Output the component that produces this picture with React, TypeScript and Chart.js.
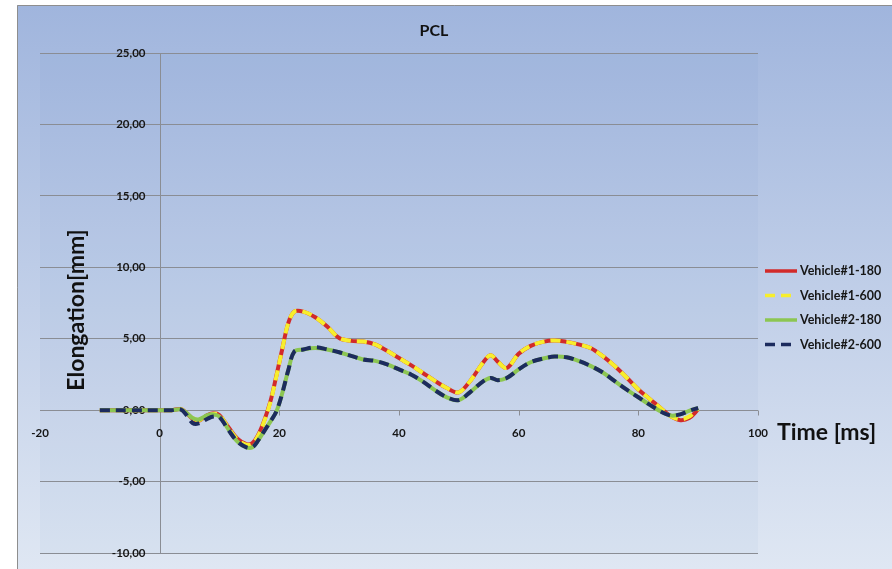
import React, { useEffect, useRef } from "react";
import { Chart, registerables } from "chart.js";

Chart.register(...registerables);

// Sample times in milliseconds (shared by all series)
const timeMs = [
  -10, -5, 0, 2, 3.5, 4.5, 5.5, 6.5, 8, 9, 10, 11.5, 13, 14.5, 15.5, 16.5, 17.5,
  18.5, 19.5, 20.5, 21.5, 22.5, 24, 26, 28, 30, 32, 34, 36, 38, 40, 42, 44, 46,
  48, 50, 52, 54, 55.3, 56.5, 58, 60, 62, 64, 66, 68, 70, 72, 74, 76, 78, 80, 82,
  84, 85.5, 87, 88.5, 90,
];

// Elongation in mm for each vehicle / configuration
const vehicle1_180 = [
  0, 0, 0, 0, 0.08, -0.2, -0.6, -0.75, -0.35, -0.22, -0.35, -1.2, -2.0, -2.38,
  -2.3, -1.7, -0.7, 0.6, 2.4, 4.3, 6.1, 6.9, 6.9, 6.5, 5.85, 5.05, 4.85, 4.8,
  4.6, 4.15, 3.65, 3.15, 2.6, 2.05, 1.55, 1.25, 2.1, 3.3, 3.85, 3.4, 2.95, 3.95,
  4.5, 4.78, 4.88, 4.78, 4.6, 4.35, 3.8, 3.1, 2.3, 1.45, 0.75, 0.05, -0.45,
  -0.7, -0.55, 0.05,
];
const vehicle1_600 = [
  0, 0, 0, 0, 0.08, -0.25, -0.55, -0.7, -0.4, -0.25, -0.35, -1.25, -2.05, -2.42,
  -2.35, -1.75, -0.75, 0.55, 2.35, 4.3, 6.1, 6.9, 6.9, 6.5, 5.85, 5.05, 4.85,
  4.8, 4.6, 4.15, 3.65, 3.15, 2.6, 2.05, 1.55, 1.25, 2.1, 3.3, 3.85, 3.4, 2.95,
  3.95, 4.5, 4.78, 4.88, 4.78, 4.6, 4.35, 3.8, 3.1, 2.3, 1.45, 0.75, 0.05, -0.45,
  -0.65, -0.45, 0.1,
];
const vehicle2_180 = [
  0, 0, 0, 0, 0.05, -0.2, -0.55, -0.65, -0.35, -0.3, -0.45, -1.35, -2.2, -2.6,
  -2.6, -2.1, -1.45, -0.8, -0.1, 1.2, 2.8, 4.1, 4.25, 4.35, 4.25, 4.05, 3.8,
  3.55, 3.45, 3.2, 2.85, 2.5, 2.0, 1.4, 0.9, 0.7, 1.3, 2.0, 2.25, 2.1, 2.25,
  2.85, 3.35, 3.6, 3.75, 3.7, 3.45, 3.1, 2.65, 2.05, 1.45, 0.9, 0.35, -0.15,
  -0.38, -0.3, -0.05, 0.15,
];
const vehicle2_600 = [
  0, 0, 0, 0, 0.05, -0.35, -0.9, -0.93, -0.6, -0.45, -0.5, -1.4, -2.2, -2.6,
  -2.6, -2.1, -1.45, -0.8, -0.1, 1.2, 2.8, 4.1, 4.25, 4.4, 4.25, 4.05, 3.8,
  3.55, 3.45, 3.2, 2.85, 2.5, 2.0, 1.4, 0.9, 0.7, 1.3, 2.0, 2.25, 2.1, 2.25,
  2.85, 3.35, 3.6, 3.75, 3.7, 3.45, 3.1, 2.65, 2.05, 1.45, 0.9, 0.35, -0.15,
  -0.38, -0.3, -0.05, 0.15,
];

const seriesNames = ["Vehicle#1-180", "Vehicle#1-600", "Vehicle#2-180", "Vehicle#2-600"];
const seriesValues = [vehicle1_180, vehicle1_600, vehicle2_180, vehicle2_600];
const seriesColors = ["#d22a2a", "#f7ee2c", "#8cc652", "#1c2b5e"];
const seriesDashed = [false, true, false, true];

const chartTitle = "PCL";
const yTitle = "Elongation[mm]";
const xTitle = "Time [ms]";

const FONT = "Lato, 'Open Sans', 'DejaVu Sans', sans-serif";
const fmtY = (v: number) => v.toFixed(2).replace(".", ",");

// Background, frame and a slightly tinted plot area
const framePlugin = {
  id: "frame",
  beforeDraw(chart: any) {
    const { ctx, width, height, chartArea: a } = chart;
    ctx.save();
    ctx.fillStyle = "#ffffff";
    ctx.fillRect(0, 0, width, height);
    const g = ctx.createLinearGradient(0, 5, 0, height);
    g.addColorStop(0, "#a0b5dd");
    g.addColorStop(1, "#dfe7f3");
    ctx.fillStyle = g;
    ctx.fillRect(17, 5, width - 17, height - 5);
    ctx.fillStyle = "rgba(80,110,185,0.045)";
    ctx.fillRect(a.left, a.top, a.right - a.left, a.bottom - a.top);
    ctx.strokeStyle = "#8e8e8e";
    ctx.lineWidth = 1;
    ctx.beginPath();
    ctx.moveTo(17.5, height);
    ctx.lineTo(17.5, 5.5);
    ctx.lineTo(width, 5.5);
    ctx.stroke();
    ctx.restore();
  },
};

// Crossing axes: vertical axis at t = 0, tick labels next to the zero lines
const axesPlugin = {
  id: "crossAxes",
  beforeDatasetsDraw(chart: any) {
    const { ctx, chartArea: a } = chart;
    const xs = chart.scales.x;
    const ys = chart.scales.y;
    const x0 = Math.round(xs.getPixelForValue(0)) + 0.5;
    const y0 = Math.round(ys.getPixelForValue(0)) + 0.5;
    ctx.save();
    ctx.strokeStyle = "#8a8d94";
    ctx.lineWidth = 1;
    ctx.beginPath();
    ctx.moveTo(x0, a.top);
    ctx.lineTo(x0, a.bottom);
    xs.ticks.forEach((t: any) => {
      if (t.value === xs.min) return;
      const px = Math.round(xs.getPixelForValue(t.value)) + 0.5;
      ctx.moveTo(px, y0);
      ctx.lineTo(px, y0 + 5);
    });
    ctx.stroke();

    ctx.fillStyle = "#151515";
    ctx.font = `bold 11.5px ${FONT}`;
    ctx.textBaseline = "middle";
    ctx.textAlign = "right";
    ys.ticks.forEach((t: any) => {
      ctx.fillText(fmtY(t.value), x0 - 15, ys.getPixelForValue(t.value));
    });
    ctx.textAlign = "center";
    xs.ticks.forEach((t: any) => {
      ctx.fillText(String(t.value), xs.getPixelForValue(t.value), y0 + 23);
    });
    ctx.restore();
  },
  afterDraw(chart: any) {
    const { ctx, chartArea: a } = chart;
    const ys = chart.scales.y;
    const y0 = ys.getPixelForValue(0);
    ctx.save();
    ctx.fillStyle = "#111111";
    // Chart title
    ctx.font = `bold 16px ${FONT}`;
    ctx.textAlign = "center";
    ctx.textBaseline = "middle";
    ctx.fillText(chartTitle, 434, 31);
    // Axis titles
    ctx.font = `bold 23px ${FONT}`;
    ctx.textAlign = "left";
    ctx.fillText(xTitle, a.right + 19, y0 + 22);
    ctx.save();
    ctx.translate(77, 310);
    ctx.rotate(-Math.PI / 2);
    ctx.textAlign = "center";
    ctx.fillText(yTitle, 0, 0);
    ctx.restore();

    // Legend
    ctx.font = `bold 12.5px ${FONT}`;
    ctx.textAlign = "left";
    chart.data.datasets.forEach((ds: any, i: number) => {
      const y = 271 + i * 24.5;
      ctx.strokeStyle = ds.borderColor;
      ctx.lineWidth = 3.5;
      ctx.setLineDash(ds.borderDash || []);
      ctx.beginPath();
      ctx.moveTo(a.right + 7, y);
      ctx.lineTo(a.right + 39, y);
      ctx.stroke();
      ctx.setLineDash([]);
      ctx.fillStyle = "#161616";
      ctx.fillText(ds.label, a.right + 42, y);
    });
    ctx.restore();
  },
};

export default function App() {
  const canvasRef = useRef<HTMLCanvasElement | null>(null);

  useEffect(() => {
    const canvas = canvasRef.current;
    if (!canvas) return;
    const datasets = seriesNames.map((name, i) => ({
      label: name,
      data: timeMs.map((t, k) => ({ x: t, y: seriesValues[i][k] })),
      borderColor: seriesColors[i],
      backgroundColor: seriesColors[i],
      borderWidth: 4,
      borderDash: seriesDashed[i] ? [10, 6] : [],
      borderCapStyle: "butt" as const,
      pointRadius: 0,
      tension: 0.35,
      fill: false,
      // later series are painted over the earlier ones
      order: seriesNames.length - i,
    }));

    const chart = new Chart(canvas, {
      type: "line",
      data: { datasets },
      options: {
        responsive: false,
        animation: false,
        layout: { padding: { left: 40, top: 53, right: 134, bottom: 8 } },
        plugins: {
          legend: { display: false },
          title: { display: false },
          tooltip: { enabled: false },
        },
        scales: {
          x: {
            type: "linear",
            min: -20,
            max: 100,
            ticks: { stepSize: 20, display: false },
            grid: { display: false },
            border: { display: false },
          },
          y: {
            type: "linear",
            min: -10,
            max: 25,
            ticks: { stepSize: 5, display: false },
            grid: { color: "#8a8d94", lineWidth: 1, drawTicks: false },
            border: { display: false },
          },
        },
      },
      plugins: [framePlugin, axesPlugin],
    });
    return () => chart.destroy();
  }, []);

  return (
    <div style={{ position: "fixed", left: 0, top: 0, width: 892, height: 569 }}>
      <canvas ref={canvasRef} width={892} height={569} style={{ display: "block" }} />
    </div>
  );
}
